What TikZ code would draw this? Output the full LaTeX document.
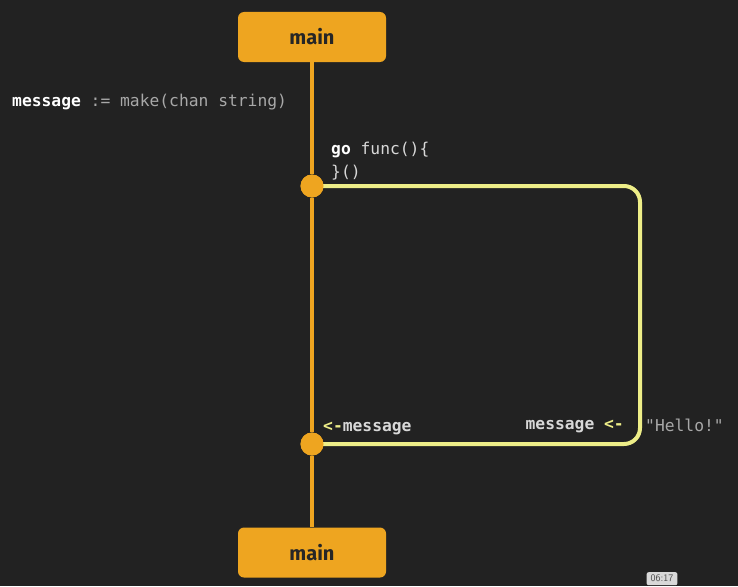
\documentclass[tikz,border=0pt]{standalone}
\usepackage{fontspec}
\setmonofont{DejaVu Sans Mono}
\newfontfamily\boxfont{Fira Sans}
\definecolor{bg}{HTML}{222222}
\definecolor{gorange}{HTML}{EEA520}
\definecolor{gyellow}{HTML}{EEEE88}
\definecolor{codegray}{HTML}{A8A8A8}
\definecolor{codelight}{HTML}{D8D8D8}
\begin{document}
\begin{tikzpicture}[x=1pt,y=-1pt,
  mainbox/.style={fill=gorange, rounded corners=6pt, minimum width=148pt, minimum height=50pt, inner sep=0pt, font=\boxfont\bfseries\fontsize{20}{24}\selectfont, text=black!85},
  code/.style={font=\ttfamily\fontsize{16.3}{20}\selectfont, inner sep=0pt, anchor=west},
  dot/.style={circle, fill=gorange, minimum size=23pt, inner sep=0pt},
  spine/.style={draw=gorange, line width=4pt},
  loop/.style={draw=gyellow, line width=4pt, rounded corners=16pt}]
\fill[bg] (0,0) rectangle (738,586);
\useasboundingbox (0,0) rectangle (738,586);
% boxes
\node[mainbox] (top) at (312,37) {main};
\node[mainbox] (bot) at (312,552.5) {main};
% dots
\node[dot] (d1) at (312,186) {};
\node[dot] (d2) at (312,444) {};
\coordinate (c1) at (640,186);
\coordinate (c2) at (640,444);
% loop
\draw[loop] (d1.center) -- (c1) -- (c2) -- (d2.center);
% spine
\draw[spine] (top.south) -- (d1);
\draw[spine] (d1) -- (d2);
\draw[spine] (d2) -- (bot.north);
\node[dot] at (d1) {};
\node[dot] at (d2) {};
% texts
\node[code] (decl) at (12,102.5) {\textcolor{white}{\bfseries message}\space\textcolor{codegray}{:=\space make(chan\space string)}};
\node[code] (go1) at (331,149.5) {\textcolor{white}{\bfseries go}\space\textcolor{codelight}{func()\{}};
\node[code] (go2) at (331,172.5) {\textcolor{codelight}{\}()}};
\node[code] (recv) at (323,428.5) {\textcolor{gyellow}{\bfseries <-}\textcolor{codelight}{\bfseries message}};
\node[code, anchor=east] (send) at (624,426.5) {\textcolor{codelight}{\bfseries message}\space\textcolor{gyellow}{\bfseries <-}};
\node[code] (hello) at (645,425.5) {\textcolor{codegray}{"Hello!"}};
% timestamp
\node[fill=codelight, rounded corners=2pt, inner xsep=4pt, inner ysep=3pt, font=\sffamily\fontsize{10}{11}\selectfont, text=black!70, anchor=north] (ts) at (662,572) {06:17};
\end{tikzpicture}
\end{document}
